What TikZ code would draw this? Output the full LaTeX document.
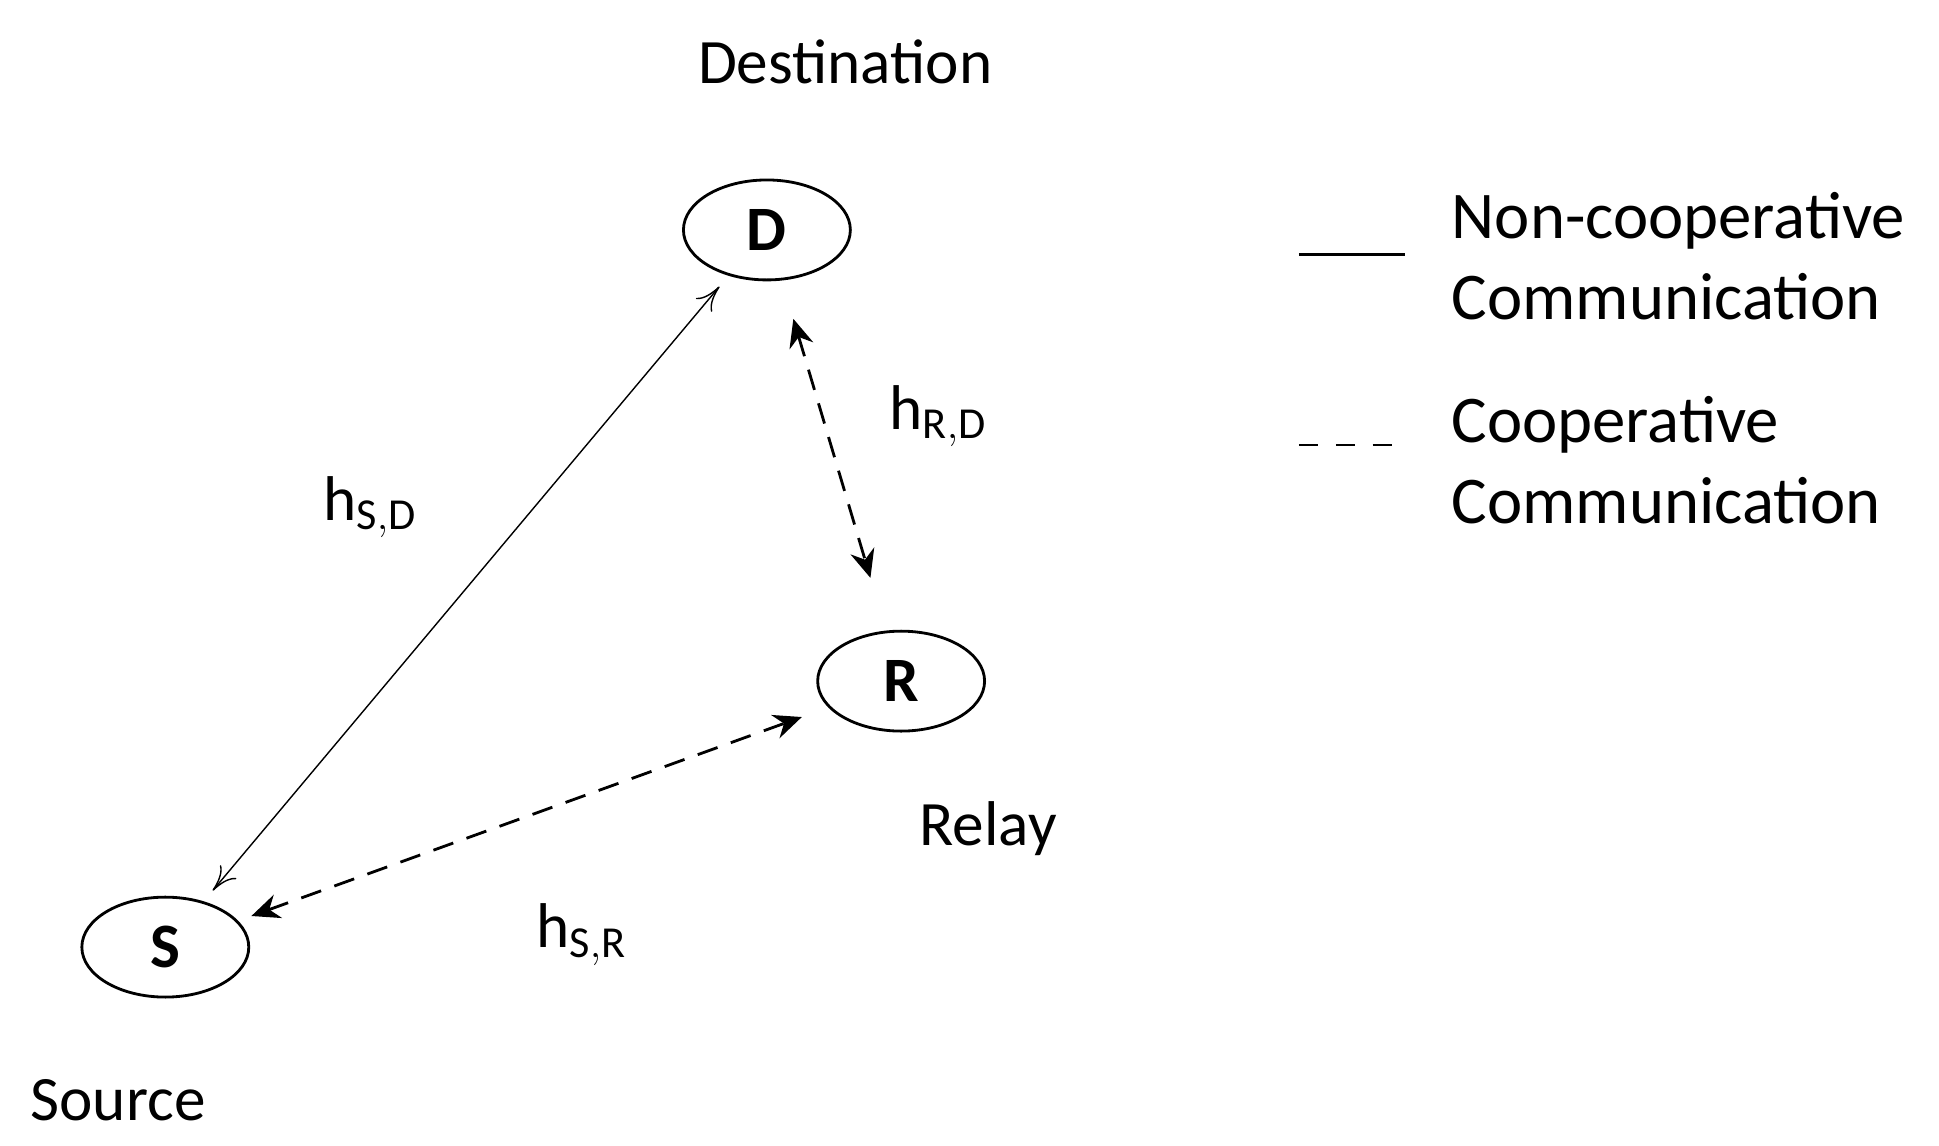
\documentclass[tikz,border=0pt]{standalone}
\usepackage{fontspec}
\setmainfont{Carlito}
\usetikzlibrary{shapes.geometric,arrows.meta}
\tikzset{
  station/.style={ellipse,draw,thick,minimum width=1.67cm,minimum height=1.0cm,font=\fontsize{18}{21}\selectfont\bfseries},
  caption/.style={font=\fontsize{18}{22}\selectfont},
  legtext/.style={font=\fontsize{19}{23}\selectfont},
  gain/.style={font=\fontsize{18}{21}\selectfont},
  direct/.style={{To[length=7pt,width=6pt]}-{To[length=7pt,width=6pt]},thin},
  coop/.style={{Stealth[length=8pt,width=7pt]}-{Stealth[length=8pt,width=7pt]},thick,dash pattern=on 6pt off 4pt}
}
\begin{document}
\begin{tikzpicture}[x=0.01243cm,y=-0.01243cm]
  \useasboundingbox (0,0) rectangle (1560,922);
  \node[station] (D) at (617,185) {D};
  \node[station] (R) at (725,548) {R};
  \node[station] (S) at (133,762) {S};
  \node[caption] (dest) at (680,50) {Destination};
  \node[caption] (relay) at (795,667) {Relay};
  \node[caption] (src) at (95,885) {Source};
  \draw[direct,shorten <=4pt,shorten >=4pt] (S) -- (D);
  \draw[coop,shorten <=4pt,shorten >=8pt] (S) -- (R);
  \draw[coop,shorten <=0.4cm,shorten >=0.55cm] (D) -- (R);
  \node[gain] (hsd) at (298,408) {h$_{\mathrm{S,D}}$};
  \node[gain] (hrd) at (755,335) {h$_{\mathrm{R,D}}$};
  \node[gain] (hsr) at (468,752) {h$_{\mathrm{S,R}}$};
  % legend
  \coordinate (l1a) at (1045,205); \coordinate (l1b) at (1130,205);
  \coordinate (l2a) at (1045,358); \coordinate (l2b) at (1130,358);
  \draw[thick] (l1a) -- (l1b);
  \draw[thick,dash pattern=on 5.5pt off 5pt] (l2a) -- (l2b);
  \node[legtext,anchor=west,align=left] (leg1) at (1158,206) {Non-cooperative\\Communication};
  \node[legtext,anchor=west,align=left] (leg2) at (1158,370) {Cooperative\\Communication};
\end{tikzpicture}
\end{document}
